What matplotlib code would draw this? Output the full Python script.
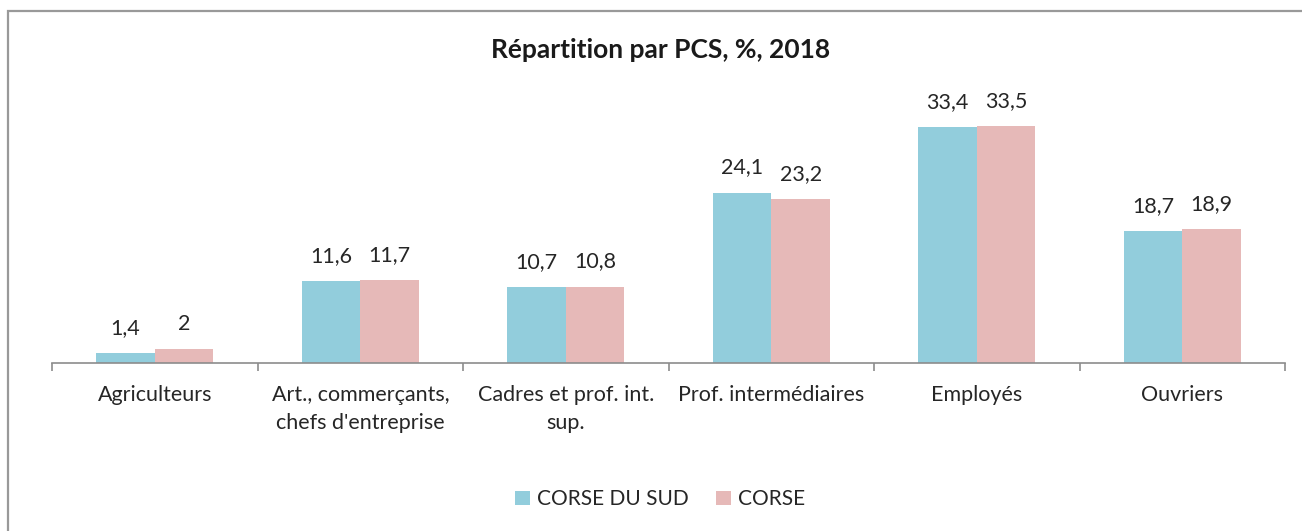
import numpy as np
import matplotlib.pyplot as plt
from matplotlib.patches import Rectangle

plt.rcParams['font.family'] = ['Lato', 'DejaVu Sans']

categories = ["Agriculteurs", "Art., commerçants,\nchefs d'entreprise",
              "Cadres et prof. int.\nsup.", "Prof. intermédiaires",
              "Employés", "Ouvriers"]
corse_du_sud = [1.4, 11.6, 10.7, 24.1, 33.4, 18.7]
corse = [2.0, 11.7, 10.8, 23.2, 33.5, 18.9]
series_names = ["CORSE DU SUD", "CORSE"]
colors = ["#92CDDC", "#E6B9B8"]
txt = "#262626"

fig = plt.figure(figsize=(13.02, 5.31), dpi=100)
ax = fig.add_axes([0.040, 0.316, 0.947, 0.533])

x = np.arange(len(categories))
w = 0.285
b1 = ax.bar(x - w / 2, corse_du_sud, w, color=colors[0], label=series_names[0])
b2 = ax.bar(x + w / 2, corse, w, color=colors[1], label=series_names[1])

def fmt(v):
    s = f"{v:.1f}".replace(".", ",")
    return s[:-2] if s.endswith(",0") else s

for bars, vals in [(b1, corse_du_sud), (b2, corse)]:
    for rect, v in zip(bars, vals):
        ax.annotate(fmt(v), (rect.get_x() + rect.get_width() / 2, v),
                    xytext=(0, 11), textcoords="offset points",
                    ha="center", va="bottom", fontsize=15.5, color=txt)

ax.set_xlim(-0.5, len(categories) - 0.5)
ax.set_ylim(0, 40)
ax.set_yticks([])
for s in ["top", "right", "left"]:
    ax.spines[s].set_visible(False)
ax.spines["bottom"].set_color("#8c8c8c")
ax.spines["bottom"].set_linewidth(1.2)

ax.set_xticks(x)
ax.set_xticklabels(categories, fontsize=15.5, color=txt, linespacing=1.5)
ax.tick_params(axis="x", which="major", length=0, pad=16)
ax.set_xticks(np.arange(-0.5, len(categories)), minor=True)
ax.tick_params(axis="x", which="minor", length=6, color="#8c8c8c", width=1.2)

fig.text(0.507, 0.905, "Répartition par PCS, %, 2018", ha="center", va="center",
         fontsize=19, fontweight="bold", color="#1a1a1a")

fig.legend(handles=[b1, b2], labels=series_names, loc="center",
           bbox_to_anchor=(0.507, 0.060), ncol=2, frameon=False, fontsize=15,
           handlelength=0.7, handleheight=0.7, handletextpad=0.35,
           columnspacing=1.3, labelcolor=txt)

fig.add_artist(Rectangle((8 / 1302, -0.1), 1.2, 1 - 11 / 531 + 0.1,
                         transform=fig.transFigure, fill=False,
                         edgecolor="#999999", linewidth=1.6))

fig.savefig("out.png", dpi=100)
